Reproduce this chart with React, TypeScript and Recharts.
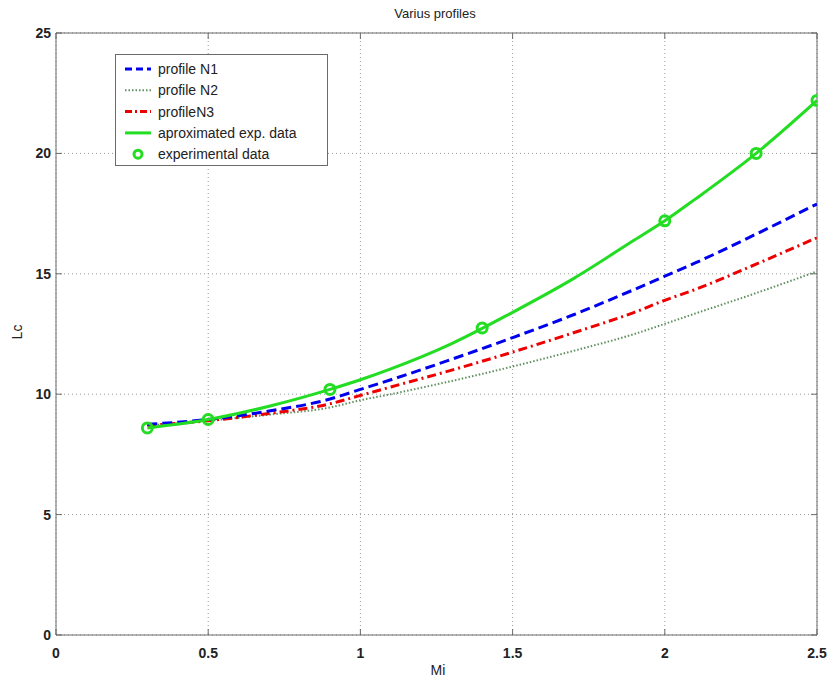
import React from 'react'
import {
   ComposedChart,
   Line,
   XAxis,
   YAxis,
   CartesianGrid,
   ReferenceLine,
} from 'recharts'

// x positions of the computed profiles
const mi = [0.3, 0.5, 0.7, 0.9, 1.0, 1.1, 1.3, 1.5, 1.7, 1.9, 2.0, 2.1, 2.3, 2.5]
const profileN1 = [8.75, 8.95, 9.3, 9.8, 10.2, 10.6, 11.45, 12.35, 13.3, 14.35, 14.9, 15.45, 16.65, 17.9]
const profileN2 = [8.7, 8.9, 9.15, 9.45, 9.75, 10.0, 10.55, 11.15, 11.8, 12.5, 12.92, 13.35, 14.2, 15.1]
const profileN3 = [8.7, 8.9, 9.2, 9.6, 9.95, 10.3, 11.0, 11.75, 12.55, 13.4, 13.9, 14.35, 15.4, 16.5]
const approxExp = [8.6, 8.95, 9.5, 10.2, 10.6, 11.05, 12.1, 13.4, 14.8, 16.4, 17.2, 18.1, 20.0, 22.2]

// measured points
const expMi = [0.3, 0.5, 0.9, 1.4, 2.0, 2.3, 2.5]
const expLc = [8.6, 8.95, 10.2, 12.75, 17.2, 20.0, 22.2]

const xTicks = [0, 0.5, 1, 1.5, 2, 2.5]
const yTicks = [0, 5, 10, 15, 20, 25]

const curves = mi.map((x, i) => ({
   mi: x,
   n1: profileN1[i],
   n2: profileN2[i],
   n3: profileN3[i],
   approx: approxExp[i],
}))
const points = expMi.map((x, i) => ({ mi: x, exp: expLc[i] }))

const W = 831
const H = 685
const TOP = 33
const RIGHT = 817
const FONT = '"Liberation Sans", Arial, Helvetica, sans-serif'
const AXIS = '#6b6b6b'

const XTick = (props: any) => {
   const { x, y, payload } = props
   return (
      <g>
         <line x1={x} y1={y} x2={x} y2={y - 6} stroke={AXIS} />
         <line x1={x} y1={TOP} x2={x} y2={TOP + 6} stroke={AXIS} />
         <text x={x} y={y + 23} textAnchor="middle" fontSize={14} fontWeight="bold" fill="#222" fontFamily={FONT}>
            {payload.value}
         </text>
      </g>
   )
}

const YTick = (props: any) => {
   const { x, y, payload } = props
   return (
      <g>
         <line x1={x} y1={y} x2={x + 6} y2={y} stroke={AXIS} />
         <line x1={RIGHT} y1={y} x2={RIGHT - 6} y2={y} stroke={AXIS} />
         <text x={x - 5} y={y + 5} textAnchor="end" fontSize={14} fontWeight="bold" fill="#222" fontFamily={FONT}>
            {payload.value}
         </text>
      </g>
   )
}

const ExpDot = (props: any) => {
   const { cx, cy } = props
   if (cx == null || cy == null) return null
   return <circle cx={cx} cy={cy} r={5} fill="none" stroke="#22dd22" strokeWidth={3} />
}

const legendItems = [
   { label: 'profile N1', color: '#0000ee', dash: '7 4', width: 3 },
   { label: 'profile N2', color: '#5f8f5f', dash: '1.5 2', width: 2 },
   { label: 'profileN3', color: '#ee0000', dash: '7 3 2 3', width: 3 },
   { label: 'aproximated exp. data', color: '#22dd22', dash: undefined, width: 3 },
]

function LegendBox() {
   return (
      <svg
         width={213}
         height={112}
         style={{ position: 'absolute', left: 115, top: 54 }}
      >
         <rect x={0.5} y={0.5} width={212} height={111} fill="#fff" stroke={AXIS} />
         {legendItems.map((it, i) => (
            <g key={it.label}>
               <line
                  x1={10}
                  x2={36}
                  y1={15 + i * 21.3}
                  y2={15 + i * 21.3}
                  stroke={it.color}
                  strokeWidth={it.width}
                  strokeDasharray={it.dash}
               />
               <text x={43} y={20 + i * 21.3} fontSize={14} fill="#222" fontFamily={FONT}>
                  {it.label}
               </text>
            </g>
         ))}
         <circle cx={23} cy={15 + 4 * 21.3} r={4} fill="none" stroke="#22dd22" strokeWidth={3} />
         <text x={43} y={20 + 4 * 21.3} fontSize={14} fill="#222" fontFamily={FONT}>
            experimental data
         </text>
      </svg>
   )
}

export default function App() {
   return (
      <div style={{ position: 'absolute', left: 0, top: 0, width: W, height: H, background: '#fff' }}>
         <ComposedChart
            width={W}
            height={H}
            margin={{ top: TOP, right: W - RIGHT, bottom: 0, left: 0 }}
         >
            <CartesianGrid stroke="#9a9a9a" strokeDasharray="1 3" />
            <XAxis
               type="number"
               dataKey="mi"
               domain={[0, 2.5]}
               ticks={xTicks}
               height={50}
               stroke={AXIS}
               tickSize={0}
               tickMargin={0}
               tick={<XTick />}
               allowDataOverflow
            />
            <YAxis
               type="number"
               domain={[0, 25]}
               ticks={yTicks}
               width={56}
               stroke={AXIS}
               tickSize={0}
               tickMargin={0}
               tick={<YTick />}
               allowDataOverflow
            />
            <ReferenceLine y={25} stroke={AXIS} />
            <ReferenceLine x={2.5} stroke={AXIS} />
            <Line
               data={curves}
               dataKey="n2"
               type="monotone"
               stroke="#5f8f5f"
               strokeWidth={2}
               strokeDasharray="1.5 2"
               dot={false}
               isAnimationActive={false}
            />
            <Line
               data={curves}
               dataKey="n3"
               type="monotone"
               stroke="#ee0000"
               strokeWidth={3}
               strokeDasharray="9 4 2 4"
               dot={false}
               isAnimationActive={false}
            />
            <Line
               data={curves}
               dataKey="n1"
               type="monotone"
               stroke="#0000ee"
               strokeWidth={3}
               strokeDasharray="10 5"
               dot={false}
               isAnimationActive={false}
            />
            <Line
               data={curves}
               dataKey="approx"
               type="monotone"
               stroke="#22dd22"
               strokeWidth={3}
               dot={false}
               isAnimationActive={false}
            />
            <Line
               data={points}
               dataKey="exp"
               stroke="none"
               dot={<ExpDot />}
               activeDot={false}
               isAnimationActive={false}
            />
         </ComposedChart>
         <LegendBox />
         <div
            style={{
               position: 'absolute',
               left: 0,
               width: 870,
               top: 6,
               textAlign: 'center',
               fontFamily: FONT,
               fontSize: 13,
               color: '#222',
            }}
         >
            Varius profiles
         </div>
         <div
            style={{
               position: 'absolute',
               left: 0,
               width: 876,
               top: 662,
               textAlign: 'center',
               fontFamily: FONT,
               fontSize: 14,
               color: '#222',
            }}
         >
            Mi
         </div>
         <div
            style={{
               position: 'absolute',
               left: 10,
               top: 324,
               transform: 'rotate(-90deg)',
               fontFamily: FONT,
               fontSize: 14,
               color: '#222',
            }}
         >
            Lc
         </div>
      </div>
   )
}
